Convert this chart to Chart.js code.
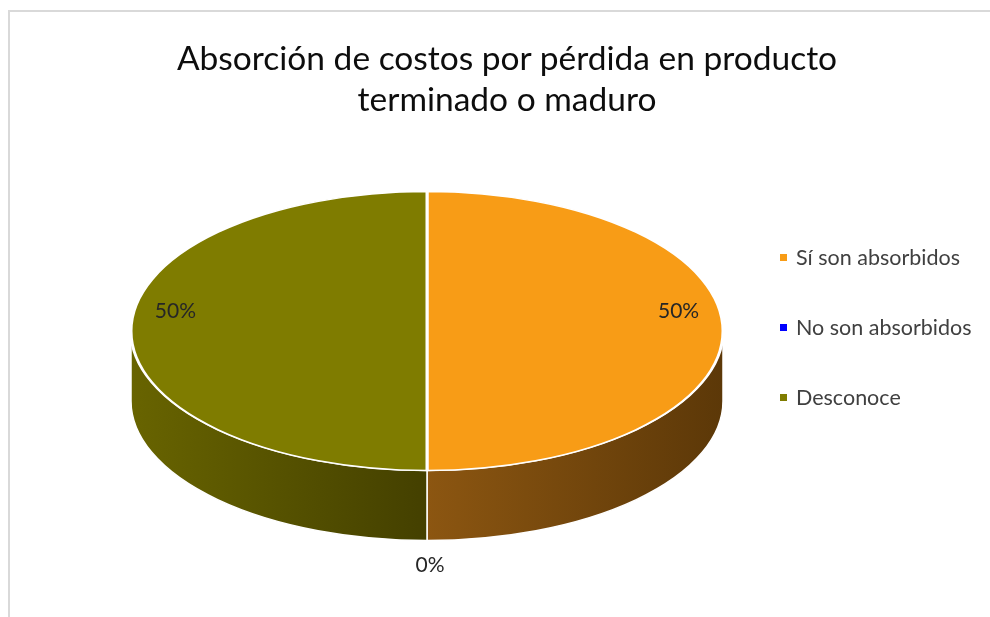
<!DOCTYPE html>
<html>
<head>
<meta charset="utf-8">
<script src="https://cdn.jsdelivr.net/npm/chart.js@4.4.1/dist/chart.umd.min.js"></script>
<style>
    body { margin: 0; background: #fff; }
    #wrap { position: relative; width: 990px; height: 617px; overflow: hidden; font-family: Lato, "Open Sans", sans-serif; }
    #frame { position: absolute; left: 8px; top: 10px; width: 1000px; height: 700px; border-left: 2px solid #d9d9d9; border-top: 2px solid #d9d9d9; }
    #pieChart { position: absolute; left: 0; top: 0; }
    #title { position: absolute; left: 0; width: 1014px; top: 37px; text-align: center; font-size: 33.5px; line-height: 41px; color: #0d0d0d; }
    #legend { position: absolute; left: 780px; top: 243px; }
    .item { height: 70px; font-size: 21.5px; color: #404040; line-height: 28px; white-space: nowrap; }
    .item span.box { display: inline-block; width: 7px; height: 7px; margin-right: 9px; vertical-align: 4px; }
</style>
</head>
<body>
<div id="wrap">
    <div id="frame"></div>
    <canvas id="pieChart" width="990" height="617"></canvas>
    <div id="title">Absorción de costos por pérdida en producto<br>terminado o maduro</div>
    <div id="legend"></div>
</div>
<script>
// data
var categories = ['Sí son absorbidos', 'No son absorbidos', 'Desconoce'];
var percentages = [50, 0, 50];
var topColors = ['#F89C16', '#0000FF', '#7F7C00'];
// side shading (light end, dark end)
var sideColors = [['#8C5611', '#5C3808'], ['#00008B', '#000050'], ['#686400', '#444000']];

var tilt = 0.4713;   // ellipse flattening
var depth = 70;      // pie thickness

function buildLegend() {
    var el = document.getElementById('legend');
    categories.forEach(function(c, i) {
        var d = document.createElement('div');
        d.className = 'item';
        d.innerHTML = '<span class="box" style="background:' + topColors[i] + '"></span>' + c;
        el.appendChild(d);
    });
}

var pie3d = {
    id: 'pie3d',
    beforeDatasetsDraw: function(chart) {
        var ctx = chart.ctx;
        var arcs = chart.getDatasetMeta(0).data;
        var cx = arcs[0].x, cy = arcs[0].y, r = arcs[0].outerRadius;
        var ry = r * tilt;
        // side walls for the front half
        arcs.forEach(function(arc, i) {
            [-2 * Math.PI, 0, 2 * Math.PI].forEach(function(off) {
                var a0 = Math.max(arc.startAngle + off, 0);
                var a1 = Math.min(arc.endAngle + off, Math.PI);
                if (a1 - a0 < 0.0001) return;
                var x0 = cx + r * Math.cos(a0), x1 = cx + r * Math.cos(a1);
                var g = ctx.createLinearGradient(Math.min(x0, x1), 0, Math.max(x0, x1), 0);
                if (x0 > x1) {
                    g.addColorStop(0, sideColors[i][0]);
                    g.addColorStop(1, sideColors[i][1]);
                } else {
                    g.addColorStop(0, sideColors[i][0]);
                    g.addColorStop(0.5, sideColors[i][1]);
                    g.addColorStop(1, sideColors[i][1]);
                }
                ctx.save();
                ctx.beginPath();
                ctx.ellipse(cx, cy, r, ry, 0, a0, a1);
                ctx.lineTo(x1, cy + ry * Math.sin(a1) + depth);
                ctx.ellipse(cx, cy + depth, r, ry, 0, a1, a0, true);
                ctx.closePath();
                ctx.fillStyle = g;
                ctx.fill();
                ctx.strokeStyle = '#ffffff';
                ctx.lineWidth = 1.5;
                ctx.stroke();
                ctx.restore();
            });
        });
        // flatten the top face
        ctx.save();
        ctx.translate(cx, cy);
        ctx.scale(1, tilt);
        ctx.translate(-cx, -cy);
    },
    afterDatasetsDraw: function(chart) {
        var ctx = chart.ctx;
        ctx.restore();
        var arcs = chart.getDatasetMeta(0).data;
        var cx = arcs[0].x, cy = arcs[0].y, r = arcs[0].outerRadius;
        ctx.save();
        ctx.font = '21px Lato, "Open Sans", sans-serif';
        ctx.fillStyle = '#262626';
        ctx.textAlign = 'center';
        ctx.textBaseline = 'middle';
        arcs.forEach(function(arc, i) {
            var mid = (arc.startAngle + arc.endAngle) / 2;
            var x, y;
            if (percentages[i] === 0) {
                x = cx + r * Math.cos(mid) + 3;
                y = cy + r * tilt * Math.sin(mid) + depth + 25;
            } else {
                x = cx + 0.85 * r * Math.cos(mid);
                y = cy + 0.85 * r * tilt * Math.sin(mid) - 20;
            }
            ctx.fillText(percentages[i] + '%', x, y);
        });
        ctx.restore();
    }
};

document.addEventListener('DOMContentLoaded', function() {
    buildLegend();
    var ctx = document.getElementById('pieChart').getContext('2d');
    new Chart(ctx, {
        type: 'pie',
        data: {
            labels: categories,
            datasets: [{
                data: percentages,
                backgroundColor: topColors,
                borderColor: '#ffffff',
                borderWidth: 3,
                radius: 296,
                clip: false
            }]
        },
        options: {
            responsive: false,
            animation: false,
            layout: { padding: { left: 0, right: 136, top: 45, bottom: 0 } },
            plugins: {
                legend: { display: false },
                title: { display: false },
                tooltip: { enabled: false }
            }
        },
        plugins: [pie3d]
    });
});
</script>
</body>
</html>
